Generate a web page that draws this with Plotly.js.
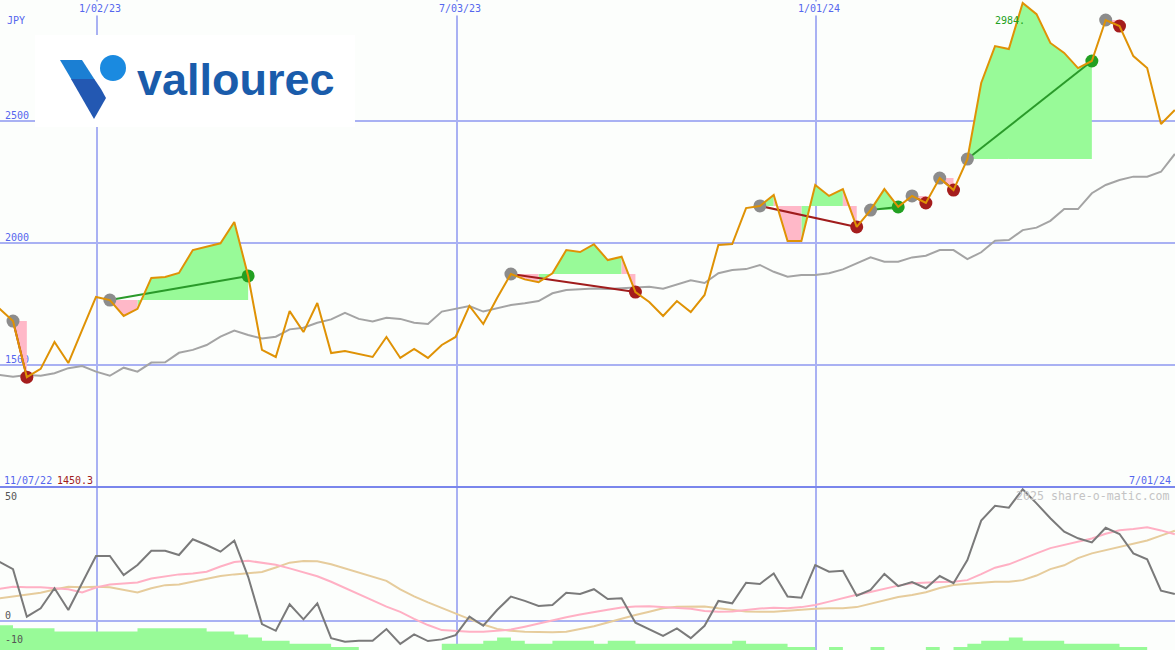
<!DOCTYPE html>
<html><head><meta charset="utf-8">
<script src="https://cdn.plot.ly/plotly-3.0.1.min.js"></script>
<style>html,body{margin:0;padding:0;background:#fcfefc}#chart{width:1175px;height:650px}</style>
</head><body><div id="chart"></div>
<script>
// ---------- DATA ----------
const dates = [
 '2022-11-14','2022-11-21','2022-11-28','2022-12-05','2022-12-12','2022-12-19','2022-12-26',
 '2023-01-02','2023-01-09','2023-01-16','2023-01-23','2023-01-30','2023-02-06','2023-02-13','2023-02-20','2023-02-27',
 '2023-03-06','2023-03-13','2023-03-20','2023-03-27','2023-04-03','2023-04-10','2023-04-17','2023-04-24',
 '2023-05-01','2023-05-08','2023-05-15','2023-05-22','2023-05-29','2023-06-05','2023-06-12','2023-06-19','2023-06-26',
 '2023-07-03','2023-07-10','2023-07-17','2023-07-24','2023-07-31','2023-08-07','2023-08-14','2023-08-21','2023-08-28',
 '2023-09-04','2023-09-11','2023-09-18','2023-09-25','2023-10-02','2023-10-09','2023-10-16','2023-10-23','2023-10-30',
 '2023-11-06','2023-11-13','2023-11-20','2023-11-27','2023-12-04','2023-12-11','2023-12-18','2023-12-25',
 '2024-01-01','2024-01-08','2024-01-15','2024-01-22','2024-01-29','2024-02-05','2024-02-12','2024-02-19','2024-02-26',
 '2024-03-04','2024-03-11','2024-03-18','2024-03-25','2024-04-01','2024-04-08','2024-04-15','2024-04-22','2024-04-29',
 '2024-05-06','2024-05-13','2024-05-20','2024-05-27','2024-06-03','2024-06-10','2024-06-17','2024-06-24','2024-07-01'
];
const price = [
 1732,1680,1450.3,1484,1594,1508,1644,1779,1766,1701,
 1730,1857,1861,1877,1971,1984,1999,2086,1865,1562,
 1533,1721,1635,1754,1549,1557,1545,1533,1615,1529,
 1566,1529,1582,1615,1742,1668,1775,1873,1851,1839,
 1876,1971,1963,1995,1930,1944,1799,1758,1701,1762,
 1717,1787,1992,1996,2143,2152,2197,2008,2008,2238,
 2193,2221,2066,2135,2221,2148,2193,2164,2266,2217,
 2344,2656,2807,2795,2984,2938,2820,2779,2717,2746,
 2914,2889,2766,2717,2488,2545
];
const priceMA = [
 1459,1452,1459,1456,1466,1487,1496,1473,1456,1489,
 1473,1510,1511,1550,1562,1582,1616,1641,1623,1609,
 1616,1646,1653,1673,1687,1714,1689,1678,1694,1689,
 1673,1668,1719,1732,1742,1719,1732,1746,1753,1762,
 1794,1807,1810,1814,1812,1816,1820,1821,1813,1831,
 1847,1836,1876,1889,1893,1910,1882,1862,1869,1869,
 1876,1892,1917,1941,1923,1923,1941,1948,1971,1971,
 1934,1962,2009,2012,2053,2063,2091,2139,2139,2204,
 2238,2258,2272,2272,2292,2365
];
const osc = [
 24.6,21.5,1.6,5.1,13.5,4.4,15.7,27.0,27.0,19.0,
 23.2,29.2,29.2,27.4,34.0,31.6,28.8,33.4,18.3,-1.5,
 -4.3,6.8,0.5,7.2,-7.4,-8.9,-8.5,-8.5,-3.6,-9.8,
 -5.8,-8.6,-7.9,-6.1,1.6,-2.2,4.4,10.0,8.2,6.1,
 6.5,11.6,11.1,13.1,9.0,9.3,-0.9,-3.7,-6.4,-3.3,
 -7.4,-2.2,8.2,7.2,15.8,15.3,19.7,10.0,9.5,23.2,
 20.4,20.8,10.4,12.8,19.5,14.4,16.1,13.5,18.6,15.6,
 25.3,41.8,48.0,47.2,54.9,49.0,42.8,37.2,34.4,32.7,
 38.8,36.2,28.1,25.6,12.5,11.1
];
const oscFast = [
 13.2,14.1,13.9,13.9,13.5,13.1,11.7,13.8,15.1,15.5,
 15.9,17.6,18.5,19.3,19.7,20.4,22.6,24.5,25.0,24.3,
 23.3,21.8,20.0,18.5,16.2,13.5,11.1,8.4,5.8,3.6,
 0.7,-1.9,-4.0,-4.5,-4.7,-4.7,-4.4,-3.8,-2.6,-1.2,
 0.1,1.4,2.5,3.6,4.5,5.4,5.9,6.0,5.6,5.4,
 4.9,4.0,3.7,3.8,4.5,5.0,5.3,5.1,5.6,6.5,
 7.9,9.4,10.8,11.9,13.3,14.6,15.6,16.0,16.1,16.2,
 16.9,19.4,22.1,23.5,25.9,28.1,30.3,31.7,33.2,34.3,
 36.3,37.8,38.3,39.0,37.7,36.1
];
const oscSlow = [
 9.3,10.0,10.6,11.6,13.0,14.1,13.9,14.1,13.9,12.8,
 11.7,13.5,14.8,15.1,16.3,17.7,18.6,19.3,19.7,20.3,
 22.2,24.2,24.9,24.8,23.5,21.8,20.2,18.6,16.6,13.0,
 10.1,7.6,5.3,2.8,0.5,-1.7,-3.5,-4.3,-4.7,-4.9,
 -4.9,-4.7,-3.6,-2.4,-0.8,0.9,2.3,3.7,5.1,5.8,
 6.0,5.9,5.1,4.4,3.8,3.7,3.7,4.1,4.6,4.9,
 5.1,5.1,5.6,7.0,8.4,9.8,10.7,11.8,13.6,14.9,
 15.4,15.9,16.2,16.2,16.9,18.8,21.5,23.1,26.1,28.1,
 29.5,30.8,32.2,33.5,35.5,37.6
];
const volume = [
 8,7,7,7,6,6,6,6,6,6,
 7,7,7,7,7,6,6,5,4,3,
 3,2,2,2,1,1,0,0,0,0,
 0,0,2,2,2,3,4,3,2,2,
 3,3,3,2,3,3,2,2,2,2,
 2,2,2,3,2,2,2,1,1,0,
 1,0,0,1,0,0,0,1,0,1,
 2,3,3,4,3,3,3,2,2,2,
 2,1,1,0,0,0
];
const tradeEntry = ['2022-11-21','2023-01-09','2023-07-31','2023-12-04','2024-01-29','2024-02-19','2024-03-04','2024-03-18','2024-05-27'];
const tradeExit  = ['2022-11-28','2023-03-20','2023-10-02','2024-01-22','2024-02-12','2024-02-26','2024-03-11','2024-05-20','2024-06-03'];
const xTickVals = ['2023-01-02 12:00','2023-07-03 12:00','2024-01-01 12:00'];
const xTickText = ['1/02/23','7/03/23','1/01/24'];
const priceTicks = [1500,2000,2500];
const oscTicks = [-10,0,50];

// ---------- BUILD ----------
const W=1175,H=650, split=163/650;
const PX = x => x/W, PY = y => 1 - y/H;
const BLUE='#5566ee', GRID='#a9b1f3', BG='#fcfefc';
const MONO='DejaVu Sans Mono';
const idx = d => dates.indexOf(d);

const gX=[],gY=[],lX=[],lY=[];
const cgX=[],cgY=[],clX=[],clY=[];
const entX=[],entY=[],winX=[],winY=[],losX=[],losY=[];
tradeEntry.forEach((ed,t)=>{
  const s=idx(ed), e=idx(tradeExit[t]); const E=price[s];
  for(let k=s;k<e;k++){
    const up = price[k+1]>=E;
    const X = up?gX:lX, Y = up?gY:lY;
    X.push(dates[k],dates[k+1],dates[k+1],dates[k],dates[k],null);
    Y.push(E,E,price[k+1],price[k],E,null);
  }
  const win = price[e]>=E;
  (win?cgX:clX).push(dates[s],dates[e],null);
  (win?cgY:clY).push(E,price[e],null);
  entX.push(dates[s]); entY.push(E);
  (win?winX:losX).push(dates[e]); (win?winY:losY).push(price[e]);
});

const traces = [
  {x:gX,y:gY,type:'scatter',mode:'lines',fill:'toself',fillcolor:'#98fa98',line:{width:0},xaxis:'x',yaxis:'y',hoverinfo:'skip'},
  {x:lX,y:lY,type:'scatter',mode:'lines',fill:'toself',fillcolor:'#ffb8c8',line:{width:0},xaxis:'x',yaxis:'y',hoverinfo:'skip'},
  {x:dates,y:priceMA,type:'scatter',mode:'lines',line:{color:'#a4a4a4',width:2},xaxis:'x',yaxis:'y'},
  {x:cgX,y:cgY,type:'scatter',mode:'lines',line:{color:'#2a9a2a',width:2},xaxis:'x',yaxis:'y'},
  {x:clX,y:clY,type:'scatter',mode:'lines',line:{color:'#a01c1c',width:2},xaxis:'x',yaxis:'y'},
  {x:entX,y:entY,type:'scatter',mode:'markers',marker:{color:'#8c8c8c',size:13},xaxis:'x',yaxis:'y'},
  {x:winX,y:winY,type:'scatter',mode:'markers',marker:{color:'#22a022',size:13},xaxis:'x',yaxis:'y'},
  {x:losX,y:losY,type:'scatter',mode:'markers',marker:{color:'#a51d1d',size:13},xaxis:'x',yaxis:'y'},
  {x:dates,y:price,type:'scatter',mode:'lines',line:{color:'#df9205',width:2},xaxis:'x',yaxis:'y'},
  // lower panel
  {x:dates,y:oscSlow,type:'scatter',mode:'lines',line:{color:'#e6cc9c',width:2},xaxis:'x2',yaxis:'y2'},
  {x:dates,y:oscFast,type:'scatter',mode:'lines',line:{color:'#ffb0c4',width:2},xaxis:'x2',yaxis:'y2'},
  {x:dates,y:osc,type:'scatter',mode:'lines',line:{color:'#7a7a7a',width:2},xaxis:'x2',yaxis:'y2'},
  {x:dates,y:volume,type:'scatter',mode:'lines',line:{width:0,shape:'hv'},fill:'tozeroy',fillcolor:'#98fa98',xaxis:'x2',yaxis:'y3'}
];

const xr = ['2022-11-14 10:00','2024-07-01 02:00'];
const xbase = {type:'date',range:xr,tickvals:xTickVals,showticklabels:false,ticks:'',showgrid:true,gridcolor:GRID,gridwidth:2,zeroline:false,showline:false,fixedrange:true};

const annotations = [
  {text:'JPY',x:PX(5),y:PY(20),xanchor:'left',yanchor:'middle'},
  {text:'11/07/22',x:PX(2),y:PY(480),xanchor:'left',yanchor:'middle'},
  {text:String(Math.min(...price)),x:PX(55),y:PY(480),xanchor:'left',yanchor:'middle',font:{family:MONO,size:10,color:'#a01c1c'}},
  {text:'7/01/24',x:PX(1173),y:PY(480),xanchor:'right',yanchor:'middle'},
  {text:Math.max(...price).toFixed(0)+'.',x:PX(993),y:PY(21),xanchor:'left',yanchor:'middle',font:{family:MONO,size:10,color:'#22a022'}},
  {text:'2025 share-o-matic.com',x:PX(1172),y:PY(496),xanchor:'right',yanchor:'middle',font:{family:MONO,size:11.6,color:'#c4c4c4'}},
  {text:'<b>vallourec</b>',x:PX(135),y:PY(79),xanchor:'left',yanchor:'middle',font:{family:'Liberation Sans',size:45,color:'#1a5cab'}}
].map(a=>Object.assign({xref:'paper',yref:'paper',showarrow:false,font:{family:MONO,size:10,color:BLUE}},a));
xTickVals.forEach((v,i)=>annotations.push({text:xTickText[i],x:v,xref:'x',y:PY(9),yref:'paper',xanchor:'center',yanchor:'middle',xshift:3,showarrow:false,bgcolor:BG,borderpad:1,font:{family:MONO,size:10,color:BLUE}}));

const shapes = [
  {type:'rect',xref:'paper',yref:'paper',x0:PX(35),x1:PX(355),y0:PY(127),y1:PY(35),fillcolor:'#ffffff',line:{width:0},layer:'above'},
  {type:'path',xref:'paper',yref:'paper',path:`M ${PX(60)},${PY(60)} L ${PX(82)},${PY(60)} L ${PX(94.6)},${PY(79.5)} L ${PX(71.5)},${PY(79.5)} Z`,fillcolor:'#1b7fd3',line:{width:0},layer:'above'},
  {type:'path',xref:'paper',yref:'paper',path:`M ${PX(71)},${PY(79)} L ${PX(94.3)},${PY(79)} L ${PX(101)},${PY(89)} L ${PX(106)},${PY(98)} L ${PX(94)},${PY(119)} Z`,fillcolor:'#2358b2',line:{width:0},layer:'above'},
  {type:'circle',xref:'paper',yref:'paper',x0:PX(100),x1:PX(126),y0:PY(81),y1:PY(55),fillcolor:'#1a8ae0',line:{width:0},layer:'above'},
  {type:'line',xref:'paper',yref:'paper',x0:0,x1:1,y0:split,y1:split,line:{color:'#7a86ec',width:2},layer:'above'}
];

const layout = {
  width:W,height:H,margin:{l:0,r:0,t:0,b:0,pad:0},
  paper_bgcolor:BG,plot_bgcolor:BG,showlegend:false,hovermode:false,
  xaxis:Object.assign({},xbase,{domain:[0,1],anchor:'y'}),
  xaxis2:Object.assign({},xbase,{domain:[0,1],anchor:'y2'}),
  yaxis:{domain:[split,1],range:[1000,2996],tickvals:priceTicks,ticktext:priceTicks.map(String),
    ticklabelposition:'inside',ticklabelshift:-6,ticklabelstandoff:2,ticks:'',tickfont:{family:MONO,size:10,color:BLUE},
    showgrid:true,gridcolor:GRID,gridwidth:2,zeroline:false,showline:false,layer:'below traces',fixedrange:true},
  yaxis2:{domain:[0,split],range:[-12.34,55.86],tickvals:oscTicks,ticktext:oscTicks.map(String),
    ticklabelposition:'inside',ticklabelshift:-5,ticklabelstandoff:2,ticks:'',tickfont:{family:MONO,size:10,color:'#555555'},
    showgrid:false,zeroline:true,zerolinecolor:GRID,zerolinewidth:2,showline:false,fixedrange:true},
  yaxis3:{overlaying:'y2',range:[0,52.6],visible:false,fixedrange:true},
  annotations, shapes
};
Plotly.newPlot('chart',traces,layout,{staticPlot:true,displayModeBar:false});
</script></body></html>
